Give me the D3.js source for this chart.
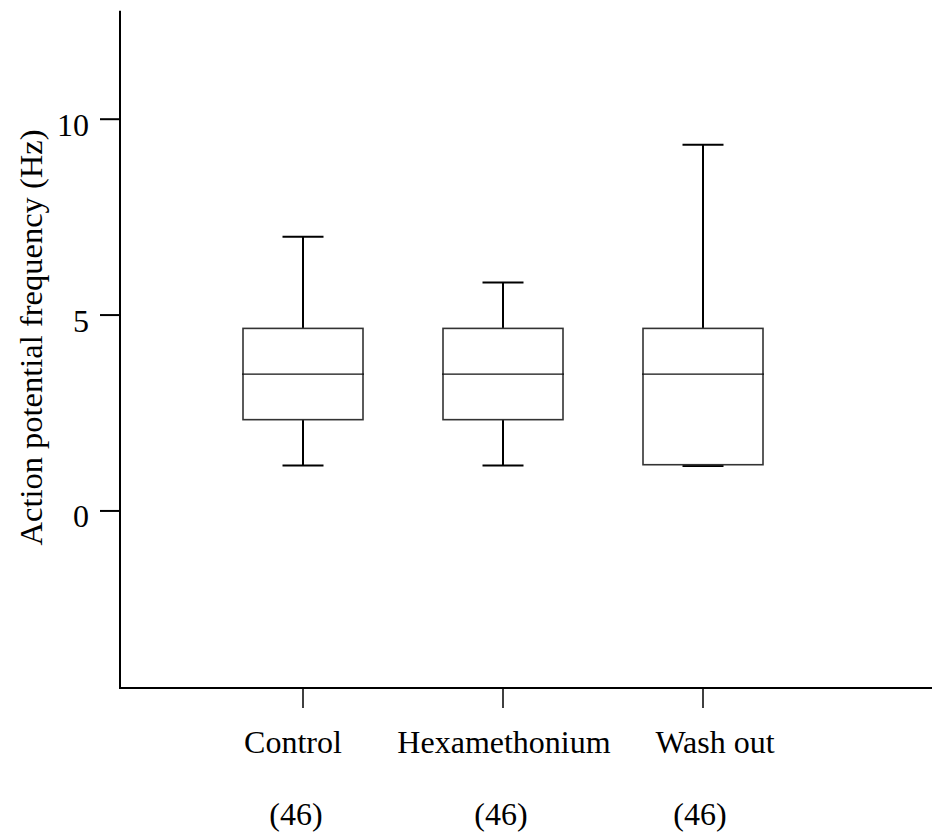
<!DOCTYPE html>
<html>
<head>
<meta charset="utf-8">
<script src="https://cdn.jsdelivr.net/npm/d3@7"></script>
<style>
  html, body { margin: 0; padding: 0; background: #fff; }
  svg { display: block; }
  text { font-family: "Liberation Serif", "Times New Roman", serif; fill: #000; }
</style>
</head>
<body>
<svg id="chart" width="932" height="835"></svg>
<script>
// ---- data ----
const categories = ["Control", "Hexamethonium", "Wash out"];
const counts = ["(46)", "(46)", "(46)"];
const whiskerMax = [7.0, 5.83, 9.35];
const q3 = [4.66, 4.66, 4.66];
const median = [3.49, 3.49, 3.49];
const q1 = [2.33, 2.33, 1.18];
const whiskerMin = [1.16, 1.16, 1.15];
const yTicks = [0, 5, 10];
const yLabel = "Action potential frequency (Hz)";

// ---- layout ----
const svg = d3.select("#chart");
const axisX = 120, axisY = 688, topY = 10.7, rightX = 932;

const y = d3.scaleLinear().domain([-4.52, 12.77]).range([axisY, topY]);
const x = d3.scaleBand().domain(categories).range([203, 803]).padding(0);
const boxW = x.bandwidth() * 0.6;
const capW = x.bandwidth() * 0.2;

// axes lines
svg.append("line").attr("x1", axisX).attr("x2", axisX).attr("y1", topY).attr("y2", axisY)
  .attr("stroke", "#000").attr("stroke-width", 2);
svg.append("line").attr("x1", axisX - 1).attr("x2", rightX).attr("y1", axisY).attr("y2", axisY)
  .attr("stroke", "#000").attr("stroke-width", 2);

// y ticks
const yt = svg.append("g");
yTicks.forEach(t => {
  yt.append("line").attr("x1", 100).attr("x2", axisX).attr("y1", y(t)).attr("y2", y(t))
    .attr("stroke", "#000").attr("stroke-width", 2);
  yt.append("text").attr("x", 89).attr("y", y(t) + 16.5).attr("text-anchor", "end")
    .attr("font-size", 32).text(t);
});

// y label
svg.append("text")
  .attr("transform", `translate(42, ${(133 + 542) / 2}) rotate(-90)`)
  .attr("text-anchor", "middle").attr("font-size", 32.5).text(yLabel);

// x ticks and labels
const labelNudge = [-10, 1, 12];
const countNudge = [-7, -2, -3];
categories.forEach((c, i) => {
  const cx = x(c) + x.bandwidth() / 2;
  svg.append("line").attr("x1", cx).attr("x2", cx).attr("y1", axisY).attr("y2", 708)
    .attr("stroke", "#000").attr("stroke-width", 1.5);
  svg.append("text").attr("x", cx + labelNudge[i]).attr("y", 753).attr("text-anchor", "middle")
    .attr("font-size", 32).text(c);
  svg.append("text").attr("x", cx + countNudge[i]).attr("y", 825).attr("text-anchor", "middle")
    .attr("font-size", 32).text(counts[i]);
});

// boxes
const g = svg.append("g");
categories.forEach((c, i) => {
  const cx = x(c) + x.bandwidth() / 2;
  // whiskers
  g.append("line").attr("x1", cx).attr("x2", cx).attr("y1", y(whiskerMax[i])).attr("y2", y(q3[i]))
    .attr("stroke", "#000").attr("stroke-width", 2);
  g.append("line").attr("x1", cx).attr("x2", cx).attr("y1", y(q1[i])).attr("y2", y(whiskerMin[i]))
    .attr("stroke", "#000").attr("stroke-width", 2);
  // caps
  [whiskerMax[i], whiskerMin[i]].forEach(v => {
    g.append("line").attr("x1", cx - capW / 2 - 0.5).attr("x2", cx + capW / 2 + 0.5)
      .attr("y1", y(v)).attr("y2", y(v)).attr("stroke", "#000").attr("stroke-width", 2);
  });
  // box
  g.append("rect").attr("x", cx - boxW / 2).attr("y", y(q3[i]))
    .attr("width", boxW).attr("height", y(q1[i]) - y(q3[i]))
    .attr("fill", "#fff").attr("stroke", "#333").attr("stroke-width", 1.6);
  // median
  g.append("line").attr("x1", cx - boxW / 2 - 1).attr("x2", cx + boxW / 2 + 1)
    .attr("y1", y(median[i])).attr("y2", y(median[i]))
    .attr("stroke", "#111").attr("stroke-width", 1.3);
});
</script>
</body>
</html>
